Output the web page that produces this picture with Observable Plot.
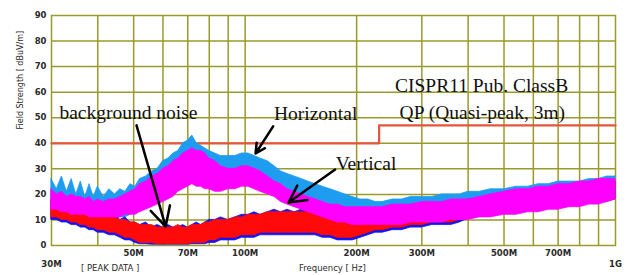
<!DOCTYPE html>
<html><head><meta charset="utf-8">
<script src="https://cdn.jsdelivr.net/npm/d3@7"></script>
<script src="https://cdn.jsdelivr.net/npm/@observablehq/plot@0.6"></script>
<style>
body{margin:0;background:#fff;}
g[aria-label="ticklab"] text{letter-spacing:0.8px;}
g[aria-label="ytitle"] text{letter-spacing:0.6px;}
</style></head><body><div id="chart"></div>
<script>
// Frequency samples (MHz)
const freqMHz = [
 30,31,32,33,34,35,36,37,38,39,
 40,41.5,43,44.5,46,47.5,49,50.5,52,54,
 56,58,60,62,64,66,68,70,72,74,
 76,78,80,83,86,90,94,98,102,106,
 110,115,120,125,130,136,142,148,155,162,
 170,178,186,195,205,215,225,235,250,265,
 280,300,320,340,360,380,400,430,460,500,
 540,580,620,660,700,750,800,850,900,950,
 1000];
// Horizontal (light blue) envelope, dBuV/m
const horizHi = [
 26,22,27,21,26,20,25,19,24,19,
 23,19,22,20,22,21,24,23,26,27,
 29,30,33,34,36,37,40,41,43,40,
 39,38,37,36,35,35,35,36,36,35,
 34,33,31,29,28,27,26,25,24,23,
 22,21,20,19,18,18,17,17,18,18,
 19,19,19,20,20,20,21,21,22,22,
 23,23,24,24,25,25,25,26,26,27,
 27];
const horizLo = [
 14,14,15,13,13,12,12,12,11,11,
 11,10,10,10,11,11,12,13,14,15,
 17,19,20,22,24,25,27,28,28,27,
 27,27,26,26,26,26,27,27,27,27,
 26,25,24,22,21,20,19,18,17,16,
 15,14,13,13,12,12,12,12,11,11,
 11,11,11,12,12,12,12,13,13,14,
 14,15,15,15,16,16,16,17,17,17,
 18];
// Vertical (magenta) envelope
const vertHi = [
 22,20,21,19,20,19,19,18,19,17,
 18,17,18,18,19,20,21,22,24,25,
 27,28,30,31,33,34,36,37,38,37,
 37,36,34,33,31,30,30,31,31,30,
 29,27,25,24,22,21,20,19,18,17,
 16,16,15,15,15,15,15,15,16,16,
 16,17,17,17,18,18,18,19,20,21,
 22,22,23,23,24,24,25,25,26,26,
 26];
const vertLo = [
 14,14,13,13,12,12,12,12,11,11,
 11,11,11,11,11,12,12,12,13,14,
 15,16,17,18,19,21,22,23,24,23,
 23,22,22,21,21,22,22,23,23,22,
 21,20,19,17,16,15,14,13,12,11,
 10,9,9,8,8,8,8,8,8,8,
 9,9,9,9,10,10,10,11,11,12,
 12,13,13,14,14,15,15,16,16,17,
 18];
// Background noise (red)
const noiseRedHi = [
 18,17,17,16,16,15,15,14,14,13,
 13,12,12,11,10,10,9,9,8,8,
 8,7,7,7,7,8,7,7,8,8,
 8,9,9,10,10,10,11,11,12,12,
 12,13,13,13,13,13,13,13,12,12,
 12,11,11,11,11,12,12,12,13,14,
 14,15,15,16,16,17,17,18,18,19,
 20,20,21,21,22,22,23,23,24,24,
 25];
const noiseRedLo = [
 11,11,10,10,9,9,8,8,7,7,
 6,6,5,5,4,3,3,2,1,1,
 1,0.5,0.5,0.5,0.5,0.5,0.5,0.5,1,1,
 1,1,2,2,3,3,3,4,4,4,
 5,5,5,5,5,5,5,5,5,4,
 4,3,3,3,4,5,6,6,7,7,
 8,8,9,9,9,10,10.5,11.5,11.5,12.5,
 12.5,13.5,13.5,14.5,14.5,15.5,15.5,16.5,16.5,17.5,
 18];
// Background noise (dark blue)
const noiseBlueHi = [
 17,18,16,17,15,16,14,15,13,14,
 12,13,11,12,10,11,9,9,8,9,
 7,8,7,8,7,7,8,7,8,9,
 8,9,10,10,11,10,11,12,12,13,
 12,13,14,13,14,13,14,13,13,12,
 12,12,11,11,12,12,13,12,14,14,
 15,15,16,16,17,17,18,18,19,19,
 20,21,21,22,22,23,23,24,24,25,
 25];
const noiseBlueLo = [
 10,10,9,9,8,8,7,7,6,6,
 5,5,4,4,3,2,2,1,0.5,0.5,
 0.3,0.3,0.3,0.3,0.3,0.3,0.3,0.3,0.5,0.5,
 0.5,0.5,1,1,2,2,2,3,3,3,
 4,4,4,4,4,4,4,4,4,3,
 3,2,2,2,3,4,5,5,6,6,
 7,7,8,8,8,9,10.5,11.5,11.5,12.5,
 12.5,13.5,13.5,14.5,14.5,15.5,15.5,16.5,16.5,17.5,
 18];

// CISPR11 Class B QP limit
const limitF = [30,230,230,1000];
const limitDb = [40,40,47,47];

// Axes
const yTicks = [0,10,20,30,40,50,60,70,80,90];
const xTicks = [50,70,100,200,300,500,700];
const xTickLabels = ["50M","70M","100M","200M","300M","500M","700M"];
const xEndTicks = [30,1000];
const xEndLabels = ["30M","1G"];
const gridXValues = [40,50,60,70,80,90,100,200,300,400,500,600,700,800,900];
const gridYValues = [10,20,30,40,50,60,70,80];

// Annotations
const annotText = ["background noise","Horizontal","Vertical","CISPR11 Pub. ClassB","QP (Quasi-peak, 3m)"];
const annotF = [48.4,155,212,435,437];
const annotDb = [52,51.6,32.1,62.6,52];
const arrowF1 = [50.9,119,175];
const arrowDb1 = [47,46.6,29.7];
const arrowF2 = [61,106.7,131];
const arrowDb2 = [7.4,36,16.8];

const rows = (hi, lo) => freqMHz.map((f, i) => ({f, hi: hi[i], lo: lo[i]}));
const limit = limitF.map((f, i) => ({f, db: limitDb[i]}));
const annots = annotText.map((t, i) => ({t, f: annotF[i], db: annotDb[i]}));
const arrows = arrowF1.map((f, i) => ({f1: f, d1: arrowDb1[i], f2: arrowF2[i], d2: arrowDb2[i]}));

const olive = "#9a9a2a";
const tickCol = "#2a2a2a";
const band = (data, color) => Plot.areaY(data, {x: "f", y1: "lo", y2: "hi", fill: color, stroke: color, strokeWidth: 0.8, curve: "linear"});

const chart = Plot.plot({
  width: 627, height: 275,
  marginLeft: 51, marginRight: 12, marginTop: 15, marginBottom: 30,
  x: {type: "log", domain: [30, 1000], label: null, axis: null},
  y: {domain: [0, 90], label: null, axis: null},
  style: {fontFamily: "DejaVu Sans", fontSize: "8.5px", color: tickCol, background: "#fff"},
  marks: [
    Plot.gridX(gridXValues, {stroke: olive, strokeOpacity: 1, strokeWidth: 1.5}),
    Plot.gridY(gridYValues, {stroke: olive, strokeOpacity: 1, strokeWidth: 1.5}),
    Plot.frame({stroke: olive, strokeWidth: 1.5}),
    Plot.line(limit, {x: "f", y: "db", stroke: "#e4553a", strokeWidth: 2.2}),
    band(rows(horizHi, horizLo), "#1e9cf0"),
    band(rows(noiseBlueHi, noiseBlueLo), "#1414f0"),
    band(rows(noiseRedHi, noiseRedLo), "#ff0a0a"),
    band(rows(vertHi, vertLo), "#ff00ff"),
    Plot.text(annots, {x: "f", y: "db", text: "t", fontFamily: "Liberation Serif", fontSize: 19.5, fill: "#111", ariaLabel: "annot"}),
    Plot.arrow(arrows, {x1: "f1", y1: "d1", x2: "f2", y2: "d2", bend: 0, stroke: "#000", strokeWidth: 2.5, headLength: 13, headAngle: 55}),
    Plot.text(yTicks, {y: d => d, text: d => String(d), frameAnchor: "left", dx: -5, textAnchor: "end", fontWeight: "bold", fontSize: 8.5, fill: tickCol, ariaLabel: "ticklab"}),
    Plot.text(xTicks, {x: d => d, text: (d, i) => xTickLabels[i], frameAnchor: "bottom", dy: 10, fontWeight: "bold", fontSize: 8.5, fill: tickCol, ariaLabel: "ticklab"}),
    Plot.text(xEndTicks, {x: d => d, text: (d, i) => xEndLabels[i], frameAnchor: "bottom", dy: 21, fontWeight: "bold", fontSize: 8.5, fill: tickCol, ariaLabel: "ticklab"}),
    Plot.text([{t: "[ PEAK DATA ]", f: 43.2}, {t: "Frequency [ Hz]", f: 172}], {x: "f", text: "t", frameAnchor: "bottom", dy: 25, fontSize: 8.5, fill: tickCol, ariaLabel: "ytitle"}),
    Plot.text([{t: "Field Strength [ dBuV/m]", db: 45.4}], {y: "db", text: "t", frameAnchor: "left", dx: -31, rotate: -90, fontSize: 8, fill: tickCol, ariaLabel: "ytitle"})
  ]
});
document.getElementById("chart").appendChild(chart);

// White boxes behind annotation labels
const g = chart.querySelector('g[aria-label="annot"]');
if (g) {
  const ns = "http://www.w3.org/2000/svg";
  const bg = document.createElementNS(ns, "g");
  g.querySelectorAll("text").forEach(t => {
    const b = t.getBBox();
    const r = document.createElementNS(ns, "rect");
    r.setAttribute("x", b.x - 5);
    r.setAttribute("y", b.y - 3);
    r.setAttribute("width", b.width + 10);
    r.setAttribute("height", b.height + 4);
    r.setAttribute("fill", "#fff");
    bg.appendChild(r);
  });
  g.parentNode.insertBefore(bg, g);
}
</script></body></html>
